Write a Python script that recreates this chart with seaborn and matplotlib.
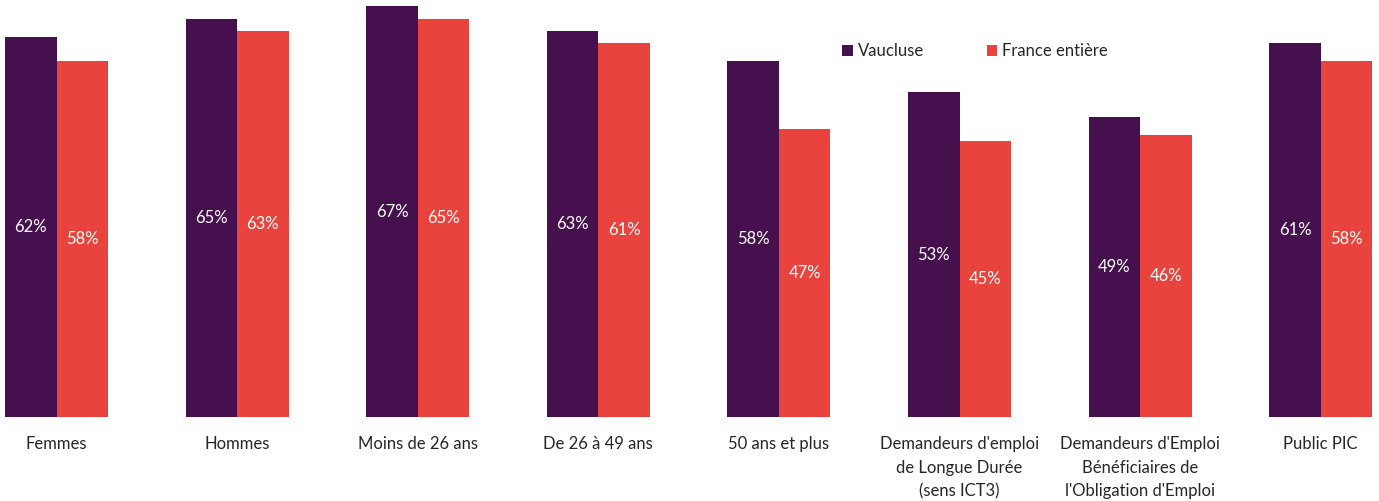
import matplotlib.pyplot as plt
import pandas as pd
import seaborn as sns

categories = ['Femmes', 'Hommes', 'Moins de 26 ans', 'De 26 à 49 ans', '50 ans et plus',
              "Demandeurs d'emploi\nde Longue Durée\n(sens ICT3)",
              "Demandeurs d'Emploi\nBénéficiaires de\nl'Obligation d'Emploi",
              'Public PIC']
vaucluse = [62, 65, 67, 63, 58, 53, 49, 61]
france = [58, 63, 65, 61, 47, 45, 46, 58]
series = ['Vaucluse', 'France entière']
colors = ['#46104F', '#E8433D']

if __name__ == "__main__":
    df = pd.DataFrame({'cat': categories * 2,
                       'pct': vaucluse + france,
                       'type': [series[0]] * len(categories) + [series[1]] * len(categories)})

    sns.set_style('white')
    plt.rcParams['font.family'] = ['Lato', 'DejaVu Sans']

    fig = plt.figure(figsize=(13.79, 5.01), dpi=100)
    ax = fig.add_axes([0, (501 - 417) / 501, 1, 417 / 501])
    sns.barplot(x='cat', y='pct', hue='type', data=df, palette=colors, width=0.57,
                saturation=1, ax=ax, edgecolor='none', legend=True)

    for cont in ax.containers:
        for bar in cont:
            h = bar.get_height()
            ax.text(bar.get_x() + bar.get_width() / 2, h / 2, '{:.0f}%'.format(h),
                    ha='center', va='center', color='white', fontsize=12)

    ax.set_xlim(-56.5 / 180.6, (1379 - 56.5) / 180.6)
    ax.set_ylim(0, 417 / 6.13)
    ax.set_xlabel('')
    ax.set_ylabel('')
    ax.set_yticks([])
    ax.tick_params(axis='x', length=0, pad=14, labelsize=12)
    for lab in ax.get_xticklabels():
        lab.set_linespacing(1.55)
    for s in ax.spines.values():
        s.set_visible(False)

    leg = ax.legend(loc='center left', bbox_to_anchor=(842 / 1379, 1 - 51 / 417), ncol=2,
                    frameon=False, fontsize=12, handlelength=0.65, handleheight=0.65,
                    handletextpad=0.3, columnspacing=3.75, borderaxespad=0, borderpad=0)

    plt.savefig('out.png', dpi=100)
